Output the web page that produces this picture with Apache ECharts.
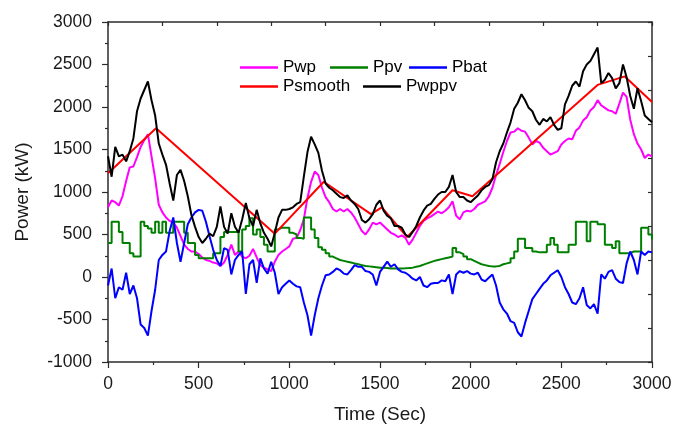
<!DOCTYPE html>
<html>
<head>
<meta charset="utf-8">
<script src="https://cdn.jsdelivr.net/npm/echarts@6/dist/echarts.min.js"></script>
<style>
  html, body { margin: 0; padding: 0; background: #fff; }
  #chart { width: 674px; height: 426px; }
</style>
</head>
<body>
<div id="chart"></div>
<script>
// Sample times (s), one reading every 20 s
const timeSec = [
  0, 20, 40, 60, 80, 100, 120, 140, 160, 180, 200, 220, 240, 260, 280, 300, 320, 340, 360, 380,
  400, 420, 440, 460, 480, 500, 520, 540, 560, 580, 600, 620, 640, 660, 680, 700, 720, 740, 760, 780,
  800, 820, 840, 860, 880, 900, 920, 940, 960, 980, 1000, 1020, 1040, 1060, 1080, 1100, 1120, 1140, 1160, 1180,
  1200, 1220, 1240, 1260, 1280, 1300, 1320, 1340, 1360, 1380, 1400, 1420, 1440, 1460, 1480, 1500, 1520, 1540, 1560, 1580,
  1600, 1620, 1640, 1660, 1680, 1700, 1720, 1740, 1760, 1780, 1800, 1820, 1840, 1860, 1880, 1900, 1920, 1940, 1960, 1980,
  2000, 2020, 2040, 2060, 2080, 2100, 2120, 2140, 2160, 2180, 2200, 2220, 2240, 2260, 2280, 2300, 2320, 2340, 2360, 2380,
  2400, 2420, 2440, 2460, 2480, 2500, 2520, 2540, 2560, 2580, 2600, 2620, 2640, 2660, 2680, 2700, 2720, 2740, 2760, 2780,
  2800, 2820, 2840, 2860, 2880, 2900, 2920, 2940, 2960, 2980, 3000
];

// Wind power (kW)
const pwp = [
  820, 900, 880, 840, 950, 1130, 1290, 1300, 1410, 1530, 1610, 1680, 1420, 1160, 850, 760, 700, 660, 640, 580,
  480, 380, 330, 300, 300, 270, 230, 200, 190, 170, 160, 130, 170, 260, 380, 260, 300, 240, 220, 250,
  330, 230, 140, 110, 90, 70, 180, 260, 300, 330, 360, 450, 460, 550, 680, 930, 1120, 1240, 1200, 1050,
  940, 880, 800, 770, 800, 770, 800, 760, 700, 620, 540, 500, 560, 640, 620, 640, 600, 560, 520, 500,
  470, 490, 460, 380, 440, 520, 600, 660, 690, 710, 740, 770, 750, 780, 820, 890, 720, 680, 760, 780,
  770, 800, 850, 870, 890, 950, 1050, 1200, 1330, 1470, 1600, 1700, 1710, 1750, 1720, 1710, 1640, 1560, 1600, 1580,
  1520, 1480, 1440, 1460, 1480, 1560, 1600, 1630, 1620, 1720, 1760, 1840, 1880, 1960, 2000, 2080, 2020, 1990, 1960, 1950,
  1920, 2040, 2170, 2120, 1850, 1680, 1570, 1500, 1400, 1440, 1420
];

// PV power (kW)
const ppv = [
  400, 650, 650, 530, 400, 400, 280, 240, 240, 650, 600, 570, 520, 650, 520, 650, 520, 520, 650, 650,
  650, 520, 400, 400, 260, 220, 220, 220, 220, 280, 280, 470, 530, 530, 530, 530, 300, 560, 600, 690,
  500, 560, 470, 380, 300, 300, 560, 580, 580, 580, 520, 500, 460, 450, 700, 700, 560, 460, 350, 320,
  280, 240, 220, 200, 190, 180, 170, 160, 150, 140, 130, 125, 120, 115, 110, 110, 105, 100, 100, 100,
  100, 102, 105, 110, 120, 130, 145, 160, 175, 190, 200, 210, 220, 230, 240, 340, 290, 270, 240, 210,
  190, 170, 150, 140, 130, 125, 125, 130, 150, 160, 170, 220, 300, 450, 450, 340, 340, 300, 290, 290,
  290, 380, 460, 380, 290, 290, 290, 380, 380, 650, 650, 650, 420, 650, 650, 620, 620, 380, 380, 340,
  420, 280, 280, 280, 300, 300, 300, 580, 580, 500, 440
];

// Battery power (kW)
const pbat = [
  -100, 100, -250, -120, -150, 50, -200, -100, -250, -560, -600, -690, -400, -150, 200, 260, 300, 540, 700, 400,
  180, 400, 620, 700, 760, 790, 780, 650, 480, 320, 200, 130, 340, 320, 30, 200, 260, 300, -200, 150,
  200, -70, 220, 100, 40, 180, 50, -200, -120, -80, -40, -80, -110, -120, -300, -450, -690, -450, -250, -100,
  20, 30, 60, 100, 80, 40, 30, 80, 140, 120, 120, 70, 60, 30, -100, 60, 120, 180, 120, 150,
  90, 60, 50, 20, -20, -40, 0, -100, -120, -80, -70, -70, -40, -50, 30, -200, 30, 70, 50, 70,
  40, 30, 50, -30, -50, -10, 30, -100, -300, -380, -430, -520, -540, -650, -700, -540, -400, -260, -200, -140,
  -80, -40, 20, 50, 80, 0, -120, -200, -300, -320, -250, -120, -330, -370, -320, -430, 30, -20, 60, 80,
  -20, -60, -70, 160, 300, 200, 30, 300, 260, 300, 290
];

// Wind + PV power (kW)
const pwppv = [
  1420, 1180, 1530, 1420, 1440, 1360, 1480, 1630, 1950, 2100, 2200, 2300, 2080, 1900, 1570, 1440, 1320, 1100, 900, 1200,
  1260, 1130, 950, 730, 590, 470, 400, 450, 510, 480, 590, 830, 590, 510, 750, 590, 520, 680, 870, 690,
  600, 790, 630, 520, 450, 360, 520, 700, 790, 790, 800, 820, 860, 880, 1180, 1470, 1650, 1560, 1460, 1250,
  1100, 1050, 1020, 980, 940, 930, 960, 900, 860, 800, 670, 640, 680, 740, 850, 900, 780, 720, 690, 600,
  600, 580, 500, 470, 530, 600, 700, 780, 840, 860, 920, 970, 1000, 1000, 1060, 1200, 1000, 940, 940, 900,
  880, 920, 960, 1020, 1060, 1080, 1150, 1350, 1480, 1570, 1700, 1820, 1980, 2050, 2150, 2080, 1990, 1950, 1850, 1790,
  1860, 1830, 1880, 1790, 1730, 1750, 2030, 2130, 2250, 2300, 2240, 2420, 2500, 2540, 2620, 2700, 2280, 2320, 2400, 2340,
  2220, 2280, 2500, 2350, 2130, 1980, 2220, 2070, 1900, 1860, 1820
];

// Ramp-limited smoothed output: corner times (s) and power (kW)
const smoothTime = [0, 265, 920, 1190, 1450, 1510, 1650, 1900, 2010, 2700, 2850, 3000];
const smoothPower = [1220, 1750, 510, 1120, 740, 820, 470, 1020, 950, 2260, 2360, 2060];

// Axis tick values
const xTicks = [0, 500, 1000, 1500, 2000, 2500, 3000];
const yTicks = [-1000, -500, 0, 500, 1000, 1500, 2000, 2500, 3000];

const FONT = "'Liberation Sans', Arial, sans-serif";
const AXIS_COLOR = '#2b2b2b';
const TEXT_COLOR = '#1a1a1a';

const pairs = (xs, ys) => xs.map((x, i) => [x, ys[i]]);
const plain = v => String(v);

const chart = echarts.init(document.getElementById('chart'), null, { renderer: 'canvas' });

const lineSeries = (name, color, data, extra) => Object.assign({
  name: name,
  type: 'line',
  xAxisIndex: 0,
  yAxisIndex: 0,
  data: data,
  symbol: 'none',
  showSymbol: false,
  lineStyle: { color: color, width: 2 },
  itemStyle: { color: color },
  animation: false,
  z: 2
}, extra || {});

// One legend per entry so each key sits where it belongs
const legendAt = (name, left, top) => ({
  data: [name],
  left: left,
  top: top,
  padding: 0,
  itemGap: 0,
  icon: 'rect',
  itemWidth: 38,
  itemHeight: 2.5,
  textStyle: { fontSize: 17, color: '#000', fontFamily: FONT },
  selectedMode: false
});

// Mirrored frame axes carry inward ticks only
const frameTick = { show: true, inside: true, length: 4, lineStyle: { color: AXIS_COLOR, width: 1.2 } };
const axisLine = { show: true, onZero: false, lineStyle: { color: AXIS_COLOR, width: 1.5 } };
const majorTick = { show: true, inside: false, length: 6, lineStyle: { color: AXIS_COLOR, width: 1.2 } };
const minorTick = { show: true, splitNumber: 2, length: 3, lineStyle: { color: AXIS_COLOR, width: 1.2 } };

chart.setOption({
  backgroundColor: '#ffffff',
  animation: false,
  grid: { left: 108, right: 22, top: 22, bottom: 64, containLabel: false, outerBoundsMode: 'none' },
  legend: [
    legendAt('Pwp', 240, 59),
    legendAt('Ppv', 330, 59),
    legendAt('Pbat', 409, 59),
    legendAt('Psmooth', 240, 78),
    legendAt('Pwppv', 363, 78)
  ],
  xAxis: [
    {
      type: 'value',
      position: 'bottom',
      min: xTicks[0],
      max: xTicks[xTicks.length - 1],
      interval: xTicks[1] - xTicks[0],
      name: 'Time (Sec)',
      nameLocation: 'middle',
      nameGap: 43,
      nameTextStyle: { fontSize: 19, color: TEXT_COLOR, fontFamily: FONT },
      axisLine: axisLine,
      axisTick: majorTick,
      minorTick: minorTick,
      axisLabel: { fontSize: 17.5, color: TEXT_COLOR, fontFamily: FONT, margin: 13, formatter: plain },
      splitLine: { show: false }
    },
    {
      type: 'value',
      position: 'top',
      min: 0,
      max: 3000,
      interval: 300,
      axisLine: axisLine,
      axisTick: frameTick,
      axisLabel: { show: false },
      splitLine: { show: false }
    }
  ],
  yAxis: [
    {
      type: 'value',
      position: 'left',
      min: yTicks[0],
      max: yTicks[yTicks.length - 1],
      interval: yTicks[1] - yTicks[0],
      name: 'Power (kW)',
      nameLocation: 'middle',
      nameGap: 76,
      nameRotate: 90,
      nameTextStyle: { fontSize: 19, color: TEXT_COLOR, fontFamily: FONT },
      axisLine: axisLine,
      axisTick: majorTick,
      minorTick: minorTick,
      axisLabel: { fontSize: 17.5, color: TEXT_COLOR, fontFamily: FONT, margin: 16, formatter: plain },
      splitLine: { show: false }
    },
    {
      type: 'value',
      position: 'right',
      min: 0,
      max: 10,
      interval: 1,
      axisLine: axisLine,
      axisTick: frameTick,
      axisLabel: { show: false },
      splitLine: { show: false }
    }
  ],
  series: [
    lineSeries('Pwp', '#ff00ff', pairs(timeSec, pwp)),
    lineSeries('Ppv', '#008000', pairs(timeSec, ppv), { step: 'end' }),
    lineSeries('Pbat', '#0000ff', pairs(timeSec, pbat)),
    lineSeries('Psmooth', '#ff0000', pairs(smoothTime, smoothPower)),
    lineSeries('Pwppv', '#000000', pairs(timeSec, pwppv))
  ]
});
</script>
</body>
</html>
